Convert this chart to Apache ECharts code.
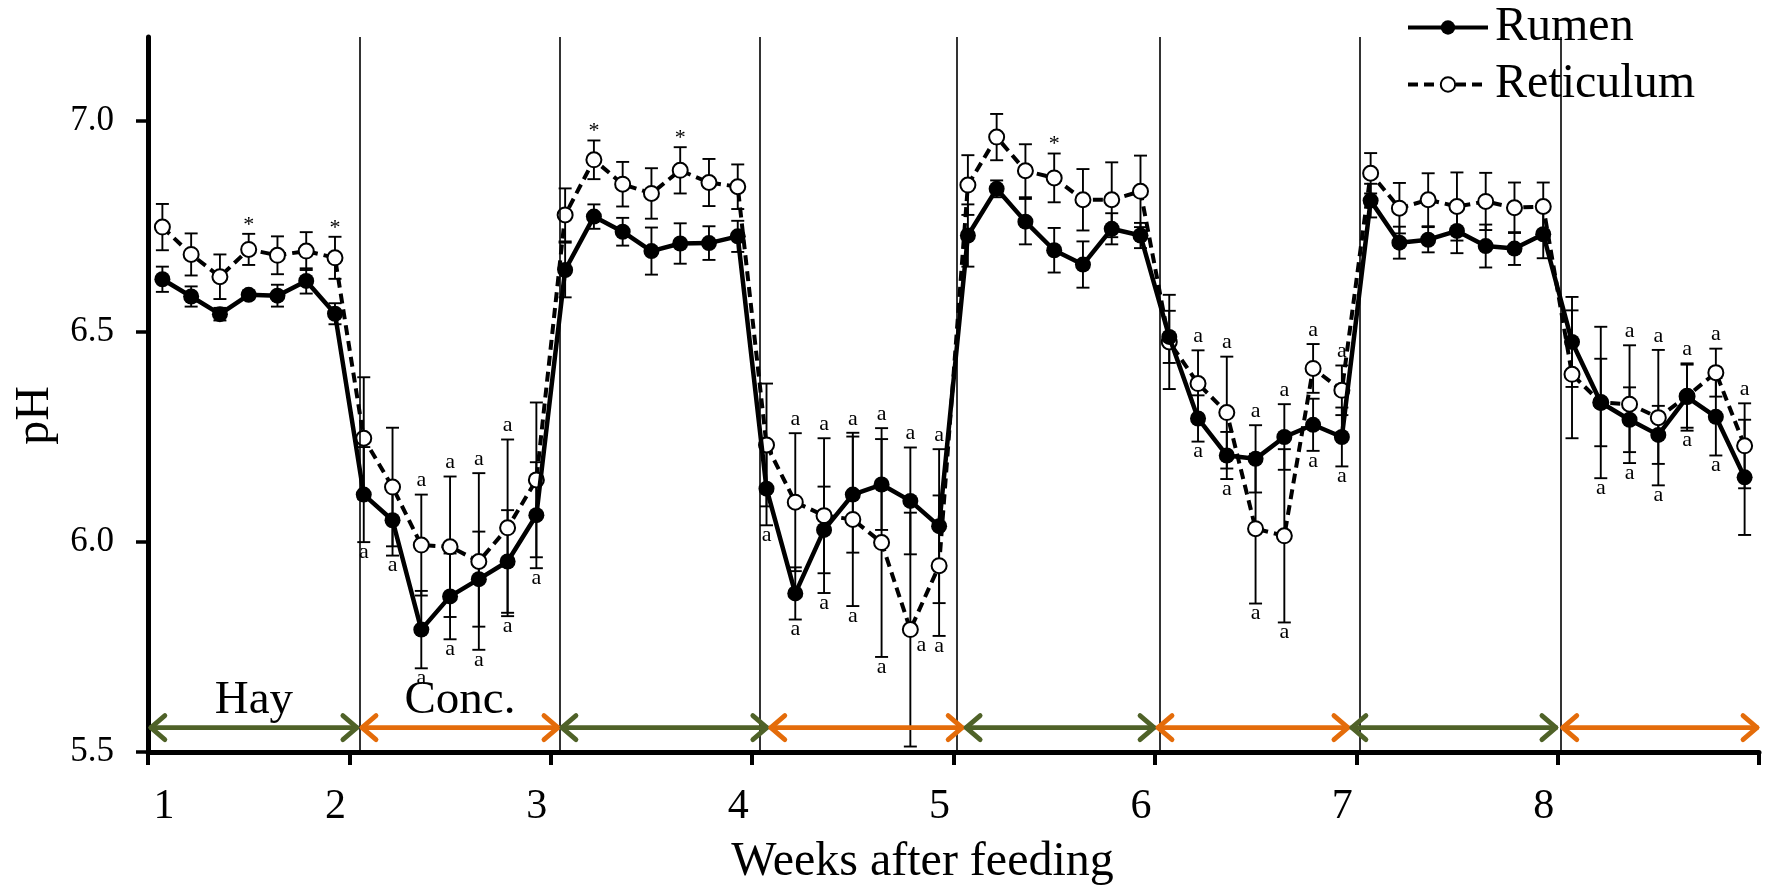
<!DOCTYPE html>
<html><head><meta charset="utf-8">
<script src="https://cdn.jsdelivr.net/npm/echarts@6/dist/echarts.min.js"></script>
<style>html,body{margin:0;padding:0;background:#fff}#c{width:1772px;height:891px}</style>
</head><body><div id="c"></div>
<script>
// ---------- data ----------
const weekLabels = ['1','2','3','4','5','6','7','8'];
const yTicks = [5.5, 6.0, 6.5, 7.0];
const rumen = [6.624,6.583,6.541,6.587,6.585,6.620,6.542,
  6.112,6.051,5.791,5.870,5.911,5.953,6.063,
  6.646,6.773,6.737,6.691,6.709,6.710,6.726,
  6.126,5.877,6.028,6.112,6.136,6.097,6.037,
  6.728,6.839,6.761,6.693,6.659,6.744,6.728,
  6.487,6.293,6.205,6.197,6.249,6.278,6.249,
  6.811,6.711,6.718,6.739,6.703,6.697,6.731,
  6.475,6.331,6.290,6.254,6.344,6.297,6.153];
const rumenSE = [0.030,0.024,0.015,0.010,0.026,0.030,0.025,
  0.113,0.084,0.092,0.102,0.113,0.122,0.126,
  0.065,0.029,0.033,0.056,0.048,0.040,0.037,
  0.087,0.062,0.103,0.138,0.108,0.127,0.183,
  0.074,0.020,0.054,0.053,0.055,0.037,0.030,
  0.062,0.055,0.056,0.080,0.078,0.062,0.070,
  0.040,0.038,0.030,0.053,0.051,0.039,0.057,
  0.107,0.104,0.077,0.069,0.080,0.092,0.137];
const retic = [6.748,6.683,6.630,6.695,6.681,6.691,6.675,
  6.246,6.130,5.992,5.988,5.953,6.033,6.147,
  6.777,6.908,6.850,6.828,6.883,6.854,6.844,
  6.230,6.094,6.062,6.053,5.998,5.791,5.943,
  6.848,6.962,6.882,6.865,6.813,6.813,6.833,
  6.475,6.376,6.307,6.031,6.014,6.412,6.360,
  6.876,6.793,6.813,6.797,6.809,6.794,6.797,
  6.398,6.331,6.327,6.295,6.346,6.402,6.228];
const reticSE = [0.055,0.050,0.053,0.037,0.045,0.045,0.050,
  0.145,0.141,0.120,0.167,0.210,0.210,0.184,
  0.063,0.046,0.053,0.060,0.055,0.056,0.053,
  0.146,0.164,0.184,0.206,0.272,0.278,0.167,
  0.071,0.055,0.063,0.058,0.073,0.089,0.085,
  0.112,0.079,0.133,0.178,0.206,0.058,0.059,
  0.048,0.060,0.063,0.081,0.068,0.060,0.057,
  0.152,0.180,0.140,0.161,0.075,0.057,0.101];
const sigAbove = ['','','','*','','','*',
  '','','a','a','a','a','',
  '','*','','','*','','',
  '','a','a','a','a','a','a',
  '','','','*','','','',
  '','a','a','a','a','a','a',
  '','','','','','','',
  '','','a','a','a','a','a'];
const sigBelow = ['','','','','','','',
  'a','a','a','a','a','a','a',
  '','','','','','','',
  'a','a','a','a','a','a','a',
  '','','','','','','',
  '','a','a','a','a','a','a',
  '','','','','','','',
  '','a','a','a','a','a',''];
const phaseDiet = ['hay','conc','hay','conc','hay','conc','hay','conc'];
const phaseLabels = ['Hay','Conc.','','','','','',''];
const phaseStart = [0.03, 7.37, 14.32, 21.58, 28.37, 35.04, 41.78, 49.11];
const phaseEnd   = [7.33, 14.32, 21.58, 28.37, 35.04, 41.78, 49.01, 56.0];
const weekDividers = [7.37, 14.32, 21.27, 28.12, 35.17, 42.13, 49.11];

// ---------- styling ----------
const FONT = '"Liberation Serif", "Times New Roman", serif';
const dietColor = {hay:'#4F6228', conc:'#E46C0A'};
const ARROW_Y = 5.558;

const chart = echarts.init(document.getElementById('c'), null, {renderer:'canvas'});

function errRender(params, api) {
  const x = api.value(0), v = api.value(1), se = api.value(2);
  const top = api.coord([x, v + se]);
  const bot = api.coord([x, v - se]);
  const hw = 6.5;
  const style = {stroke:'#000', lineWidth:1.9};
  return {type:'group', children:[
    {type:'line', shape:{x1:top[0], y1:top[1], x2:bot[0], y2:bot[1]}, style},
    {type:'line', shape:{x1:top[0]-hw, y1:top[1], x2:top[0]+hw, y2:top[1]}, style},
    {type:'line', shape:{x1:bot[0]-hw, y1:bot[1], x2:bot[0]+hw, y2:bot[1]}, style}
  ]};
}

function sigRender(params, api) {
  const idx = api.value(3);
  const x = api.value(0);
  const topP = api.coord([x, api.value(1)]);
  const botP = api.coord([x, api.value(2)]);
  const children = [];
  const a = sigAbove[idx], b = sigBelow[idx];
  if (a) {
    children.push({type:'text', style:{text:a, x:topP[0], y: topP[1] + (a === '*' ? -9 : -14),
      font:'22px ' + FONT, fill:'#000', align:'center', verticalAlign:'middle'}});
  }
  if (b) {
    let bx = botP[0], by = botP[1] + 10;
    if (api.value(2) < 5.6) { // no room under the bar: put beside the reticulum marker
      const rp = api.coord([x, retic[idx]]);
      bx = rp[0] + 11; by = rp[1] + 16;
    }
    children.push({type:'text', style:{text:b, x:bx, y:by,
      font:'22px ' + FONT, fill:'#000', align:'center', verticalAlign:'middle'}});
  }
  return {type:'group', children};
}

function arrowRender(params, api) {
  const i = api.value(3);
  const p0 = api.coord([api.value(0), api.value(1)]);
  const p1 = api.coord([api.value(2), api.value(1)]);
  const col = dietColor[phaseDiet[i]];
  const L = 14, H = 12;
  const st = {stroke: col, lineWidth: 4.8, lineCap:'round', lineJoin:'round', fill: null};
  const ch = [
    {type:'line', shape:{x1:p0[0]+2, y1:p0[1], x2:p1[0]-2, y2:p1[1]}, style:st},
    {type:'polyline', shape:{points:[[p0[0]+L+2, p0[1]-H],[p0[0]+2, p0[1]],[p0[0]+L+2, p0[1]+H]]}, style:st},
    {type:'polyline', shape:{points:[[p1[0]-L-2, p1[1]-H],[p1[0]-2, p1[1]],[p1[0]-L-2, p1[1]+H]]}, style:st}
  ];
  if (phaseLabels[i]) {
    ch.push({type:'text', style:{text:phaseLabels[i], x:(p0[0]+p1[0])/2, y:p0[1]-27,
      font:'47px ' + FONT, fill:'#000', align:'center', verticalAlign:'middle'}});
  }
  return {type:'group', children: ch};
}

const xy = (arr) => arr.map((v, i) => [i + 0.5, v]);
const errData = (arr, se) => arr.map((v, i) => [i + 0.5, v, se[i]]);
const sigData = rumen.map((v, i) => [i + 0.5,
  Math.max(v + rumenSE[i], retic[i] + reticSE[i]),
  Math.min(v - rumenSE[i], retic[i] - reticSE[i]), i]).filter(d => sigAbove[d[3]] || sigBelow[d[3]]);
const arrowData = phaseStart.map((s, i) => [s, ARROW_Y, phaseEnd[i], i]);

chart.setOption({
  animation: false,
  backgroundColor: '#fff',
  grid: {left:148, right:13, top:37, bottom:136, containLabel:false},
  legend: {
    orient:'vertical', left:1401, top:-2, itemWidth:80, itemHeight:18, itemGap:8,
    data:['Rumen','Reticulum'],
    lineStyle:{width:4},
    textStyle:{fontFamily:FONT, fontSize:48, color:'#000', lineHeight:49, padding:[0,0,0,2]}
  },
  xAxis: {
    type:'value', min:0, max:56, interval:7,
    name:'Weeks after feeding', nameLocation:'middle', nameGap:86,
    nameTextStyle:{fontFamily:FONT, fontSize:48, color:'#000', padding:[0,62,0,0]},
    axisLine:{show:true, onZero:false, lineStyle:{color:'#000', width:5}},
    axisTick:{show:true, inside:false, length:13, lineStyle:{color:'#000', width:4}},
    splitLine:{show:false},
    axisLabel:{
      margin:34, color:'#000', fontFamily:FONT, fontSize:42,
      formatter: (v) => {
        const w = Math.round(v / 7);
        if (w >= weekLabels.length) return '';
        return w === 0 ? '{f|' + weekLabels[w] + '}' : '{o|' + weekLabels[w] + '}';
      },
      rich:{
        f:{fontFamily:FONT, fontSize:42, color:'#000', padding:[0,0,0,32]},
        o:{fontFamily:FONT, fontSize:42, color:'#000', padding:[0,28,0,0]}
      }
    }
  },
  yAxis: {
    type:'value', min:5.5, max:7.2,
    name:'pH', nameLocation:'middle', nameGap:88,
    nameTextStyle:{fontFamily:FONT, fontSize:48, color:'#000', padding:[0,42,0,0]},
    axisLine:{show:true, lineStyle:{color:'#000', width:5}},
    axisTick:{show:true, inside:false, length:12, lineStyle:{color:'#000', width:3.5}, customValues: yTicks},
    splitLine:{show:false},
    axisLabel:{margin:34, color:'#000', fontFamily:FONT, fontSize:35, customValues: yTicks,
      formatter:(v) => v.toFixed(1)}
  },
  series: [
    {
      type:'custom', name:'dividers', renderItem: () => ({type:'group', children:[]}), data:[[0, 6]],
      encode:{x:0, y:1}, silent:true, z:0,
      markLine:{silent:true, symbol:['none','none'], label:{show:false},
        lineStyle:{color:'#000', width:1.6, type:'solid'},
        data: weekDividers.map(x => ({xAxis:x}))}
    },
    {type:'custom', name:'rumenErr', renderItem: errRender, data: errData(rumen, rumenSE), encode:{x:0, y:1}, z:1, silent:true},
    {type:'custom', name:'reticErr', renderItem: errRender, data: errData(retic, reticSE), encode:{x:0, y:1}, z:1, silent:true},
    {
      type:'line', name:'Reticulum', data: xy(retic), z:3,
      symbol:'circle', symbolSize:15, showAllSymbol:true,
      lineStyle:{color:'#000', width:4, type:[10,6]},
      itemStyle:{color:'#fff', borderColor:'#000', borderWidth:2}
    },
    {
      type:'line', name:'Rumen', data: xy(rumen), z:4,
      symbol:'circle', symbolSize:16, showAllSymbol:true,
      lineStyle:{color:'#000', width:4.5, type:'solid'},
      itemStyle:{color:'#000', borderColor:'#000', borderWidth:0}
    },
    {type:'custom', name:'sig', renderItem: sigRender, data: sigData, encode:{x:0, y:1}, z:5, silent:true},
    {type:'custom', name:'phases', renderItem: arrowRender, data: arrowData, encode:{x:[0,2], y:1}, z:5, silent:true}
  ]
});
</script>
</body></html>
